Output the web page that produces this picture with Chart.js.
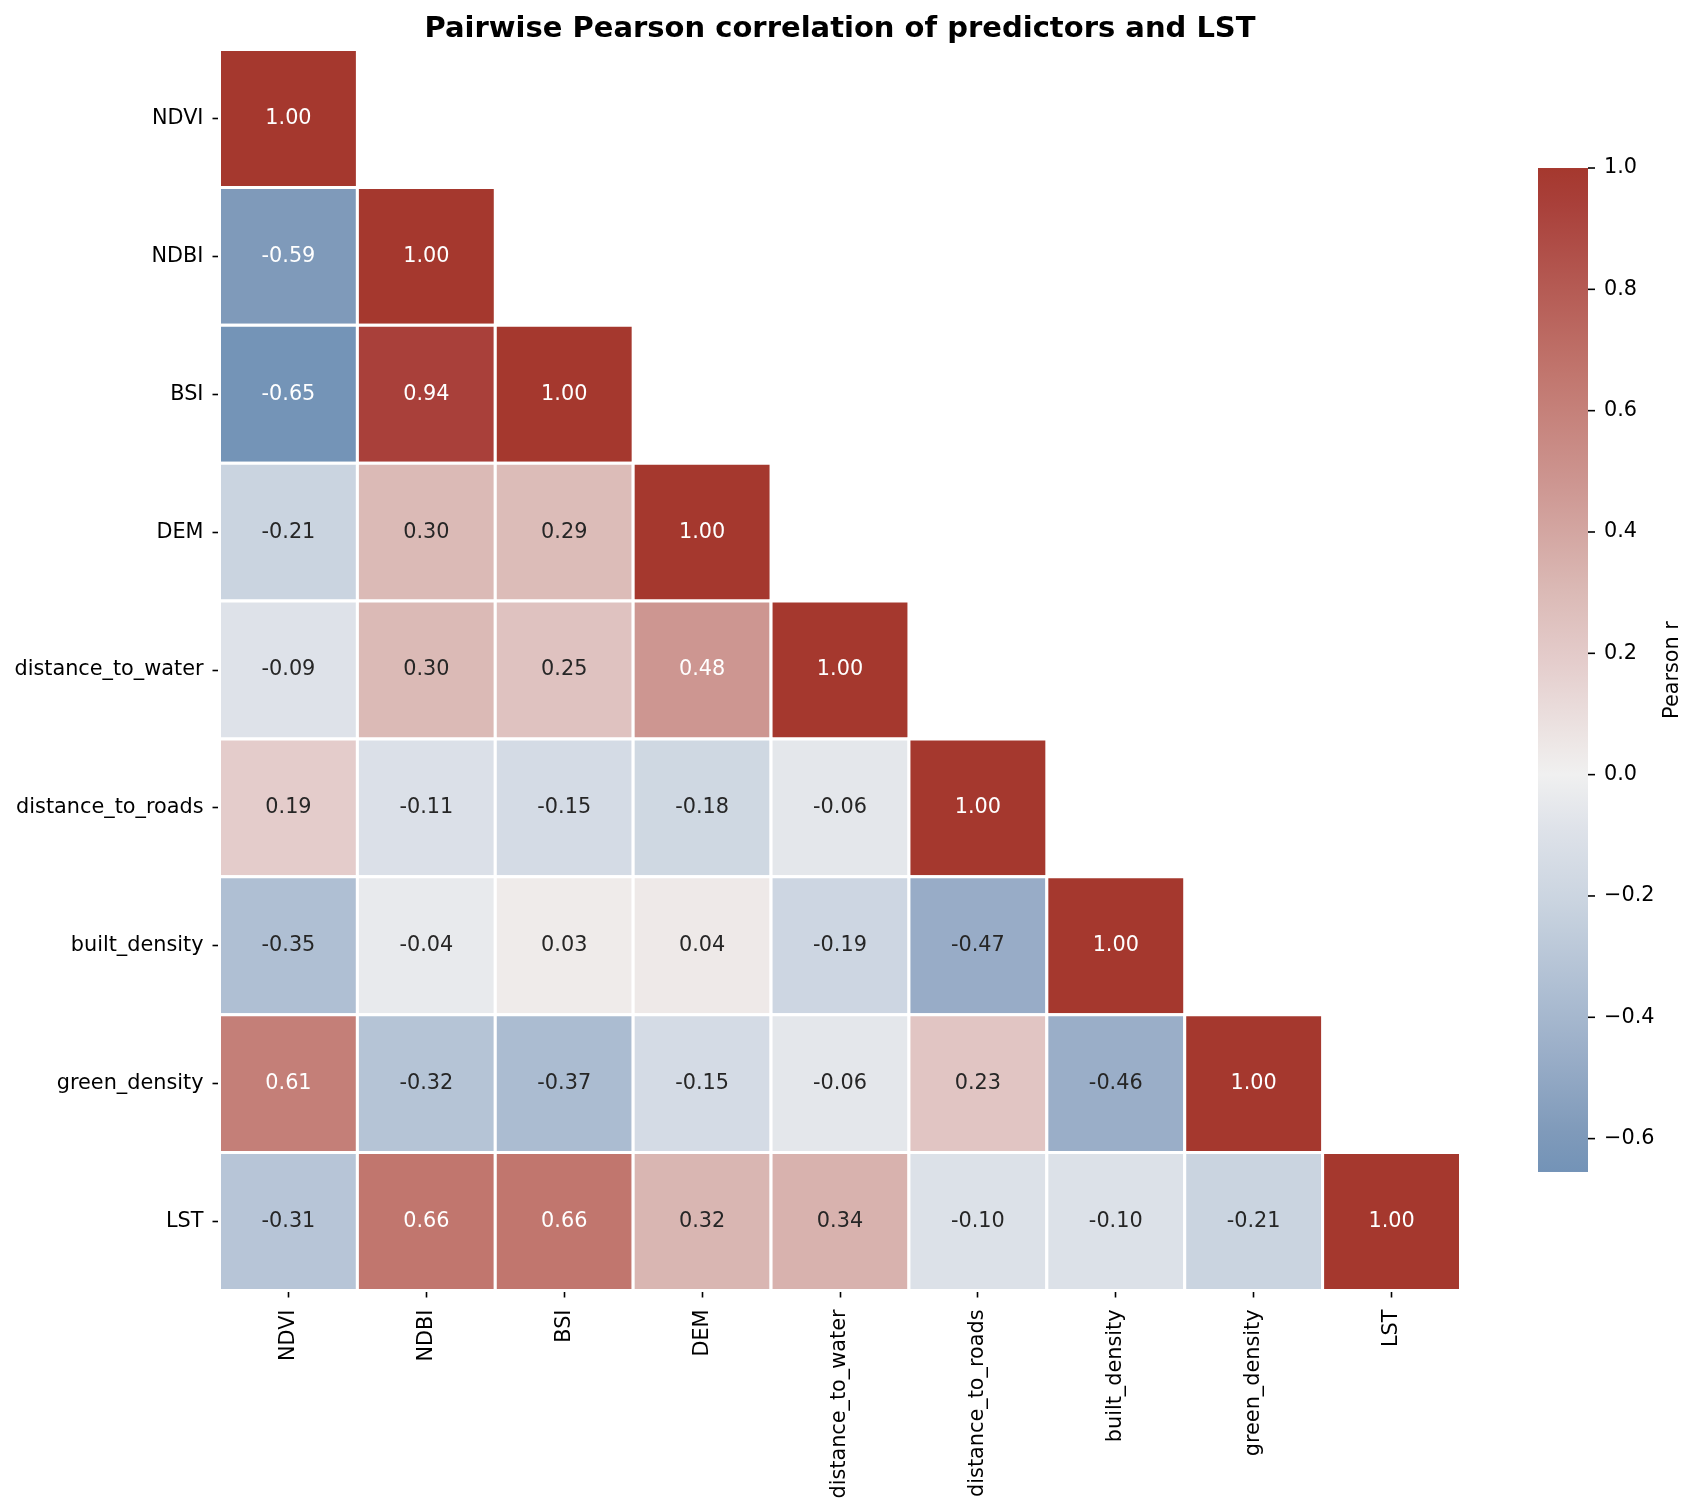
<!DOCTYPE html>
<html>
<head>
<meta charset="utf-8">
<title>Pairwise Pearson correlation of predictors and LST</title>
<script src="https://cdn.jsdelivr.net/npm/chart.js@4.4.1/dist/chart.umd.min.js"></script>
<style>
  html, body { margin: 0; padding: 0; background: #ffffff; }
  canvas { display: block; }
</style>
</head>
<body>
<canvas id="corrmap" width="1696" height="1509"></canvas>
<script>
"use strict";

/* variables, in matrix order */
var variables = ['NDVI', 'NDBI', 'BSI', 'DEM', 'distance_to_water', 'distance_to_roads', 'built_density', 'green_density', 'LST'];

/* lower triangle of the correlation matrix, one row per variable */
var rowNDVI = [1.00];
var rowNDBI = [-0.59, 1.00];
var rowBSI = [-0.65, 0.94, 1.00];
var rowDEM = [-0.21, 0.30, 0.29, 1.00];
var rowWater = [-0.09, 0.30, 0.25, 0.48, 1.00];
var rowRoads = [0.19, -0.11, -0.15, -0.18, -0.06, 1.00];
var rowBuilt = [-0.35, -0.04, 0.03, 0.04, -0.19, -0.47, 1.00];
var rowGreen = [0.61, -0.32, -0.37, -0.15, -0.06, 0.23, -0.46, 1.00];
var rowLST = [-0.31, 0.66, 0.66, 0.32, 0.34, -0.10, -0.10, -0.21, 1.00];
var corrRows = [rowNDVI, rowNDBI, rowBSI, rowDEM, rowWater, rowRoads, rowBuilt, rowGreen, rowLST];

/* colour bar */
var cbMin = -0.655;
var cbMax = 1.0;
var cbTicks = [-0.6, -0.4, -0.2, 0.0, 0.2, 0.4, 0.6, 0.8, 1.0];

/* diverging palette: [value, colour] */
var paletteStops = [
    [-0.655, '#7393b7'],
    [-0.59, '#7f9aba'],
    [-0.46, '#9aaec8'],
    [-0.35, '#afbfd3'],
    [-0.21, '#cad4e0'],
    [-0.09, '#dee2e9'],
    [0.00, '#f0f0f0'],
    [0.04, '#eee9e8'],
    [0.19, '#e4cccb'],
    [0.30, '#dbbab6'],
    [0.48, '#cd9691'],
    [0.66, '#c1766e'],
    [0.94, '#a9403a'],
    [1.00, '#a5382e']
];

function hexToRgb(h) {
    return [parseInt(h.substr(1, 2), 16), parseInt(h.substr(3, 2), 16), parseInt(h.substr(5, 2), 16)];
}

function colorFor(v) {
    if (v <= paletteStops[0][0]) return paletteStops[0][1];
    for (var k = 1; k < paletteStops.length; k++) {
        if (v <= paletteStops[k][0]) {
            var a = paletteStops[k - 1], b = paletteStops[k];
            var t = (v - a[0]) / (b[0] - a[0]);
            var ca = hexToRgb(a[1]), cb = hexToRgb(b[1]);
            var c = ca.map(function (x, n) { return Math.round(x + (cb[n] - x) * t); });
            return 'rgb(' + c.join(',') + ')';
        }
    }
    return paletteStops[paletteStops.length - 1][1];
}

/* dark cells get white text, like seaborn does */
function textColorFor(v) {
    return (v >= 0.45 || v <= -0.5) ? '#ffffff' : '#262626';
}

var cells = [];
corrRows.forEach(function (row, i) {
    row.forEach(function (v, j) {
        cells.push({ x: j, y: i, v: v });
    });
});

var FONT = 'DejaVu Sans';
Chart.defaults.font.family = FONT;

function indexTicks(scale) {
    scale.ticks = variables.map(function (n, i) { return { value: i }; });
}

function cellRadius(ctx) {
    var xs = ctx.chart.scales.x;
    if (!xs) return 0;
    return Math.abs(xs.getPixelForValue(1) - xs.getPixelForValue(0)) / Math.SQRT2;
}

/* cell annotations */
var annotatePlugin = {
    id: 'annotate',
    afterDatasetsDraw: function (chart) {
        var ctx = chart.ctx, xs = chart.scales.x, ys = chart.scales.y;
        ctx.save();
        ctx.font = '20.8px "' + FONT + '"';
        ctx.textAlign = 'center';
        ctx.textBaseline = 'middle';
        cells.forEach(function (c) {
            ctx.fillStyle = textColorFor(c.v);
            ctx.fillText(c.v.toFixed(2), xs.getPixelForValue(c.x), ys.getPixelForValue(c.y));
        });
        ctx.restore();
    }
};

/* colour bar to the right of the heatmap */
var colorbarPlugin = {
    id: 'colorbar',
    afterDraw: function (chart) {
        var ctx = chart.ctx, area = chart.chartArea;
        var h = (area.bottom - area.top) * 0.809;
        var mid = (area.top + area.bottom) / 2;
        var top = mid - h / 2, bottom = mid + h / 2;
        var left = area.right + 77.5, width = 50;
        var yFor = function (v) { return top + (cbMax - v) / (cbMax - cbMin) * (bottom - top); };

        var grad = ctx.createLinearGradient(0, top, 0, bottom);
        paletteStops.slice().reverse().forEach(function (s) {
            grad.addColorStop((cbMax - s[0]) / (cbMax - cbMin), s[1]);
        });
        ctx.save();
        ctx.fillStyle = grad;
        ctx.fillRect(left, top, width, bottom - top);

        ctx.strokeStyle = '#000';
        ctx.lineWidth = 1.6;
        ctx.fillStyle = '#000';
        ctx.font = '20.8px "' + FONT + '"';
        ctx.textAlign = 'left';
        ctx.textBaseline = 'middle';
        cbTicks.forEach(function (t) {
            var y = yFor(t);
            ctx.beginPath();
            ctx.moveTo(left + width, y);
            ctx.lineTo(left + width + 7, y);
            ctx.stroke();
            var label = (t < 0 ? '\u2212' : '') + Math.abs(t).toFixed(1);
            ctx.fillText(label, left + width + 16, y);
        });

        ctx.translate(left + width + 85, mid);
        ctx.rotate(-Math.PI / 2);
        ctx.textAlign = 'center';
        ctx.fillText('Pearson r', 0, 0);
        ctx.restore();
    }
};

var heatmap = new Chart(document.getElementById('corrmap').getContext('2d'), {
    type: 'scatter',
    data: {
        datasets: [{
            data: cells,
            pointStyle: 'rect',
            pointRadius: cellRadius,
            pointHoverRadius: cellRadius,
            backgroundColor: function (ctx) {
                return ctx.raw ? colorFor(ctx.raw.v) : '#ffffff';
            },
            borderColor: '#ffffff',
            borderWidth: 3,
            clip: false
        }]
    },
    options: {
        responsive: false,
        devicePixelRatio: 1,
        animation: false,
        events: [],
        layout: {
            padding: { left: 0, right: 235.5, top: 0, bottom: 0 }
        },
        plugins: {
            legend: { display: false },
            tooltip: { enabled: false },
            title: {
                display: true,
                text: 'Pairwise Pearson correlation of predictors and LST',
                fullSize: false,
                color: '#000',
                font: { family: FONT, size: 29, weight: 'bold' },
                padding: { top: 12, bottom: 2.7 }
            }
        },
        scales: {
            x: {
                type: 'linear',
                position: 'bottom',
                min: -0.5,
                max: 8.5,
                afterBuildTicks: indexTicks,
                afterFit: function (scale) { scale.height = 218.5; },
                border: { display: false },
                grid: {
                    drawOnChartArea: false,
                    drawTicks: true,
                    tickLength: 7,
                    tickWidth: 1.6,
                    tickColor: '#000'
                },
                ticks: {
                    autoSkip: false,
                    maxRotation: 90,
                    minRotation: 90,
                    padding: 12,
                    color: '#000',
                    font: { family: FONT, size: 20.8 },
                    callback: function (v) { return variables[v]; }
                }
            },
            y: {
                type: 'linear',
                position: 'left',
                reverse: true,
                min: -0.5,
                max: 8.5,
                afterBuildTicks: indexTicks,
                afterFit: function (scale) { scale.width = 219.5; },
                border: { display: false },
                grid: {
                    drawOnChartArea: false,
                    drawTicks: true,
                    tickLength: 7,
                    tickWidth: 1.6,
                    tickColor: '#000'
                },
                ticks: {
                    autoSkip: false,
                    padding: 9,
                    color: '#000',
                    font: { family: FONT, size: 20.8 },
                    callback: function (v) { return variables[v]; }
                }
            }
        }
    },
    plugins: [annotatePlugin, colorbarPlugin]
});
</script>
</body>
</html>
